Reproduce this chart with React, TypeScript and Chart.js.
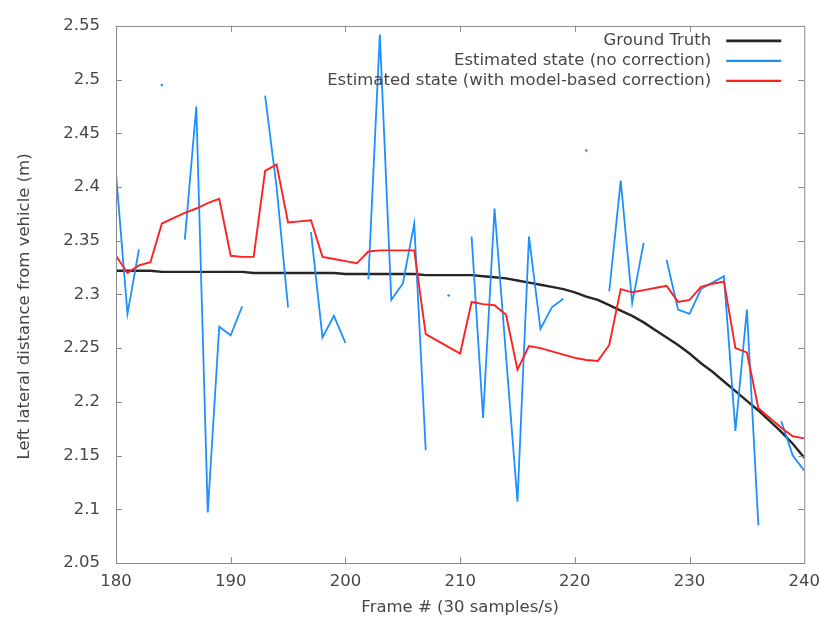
import React, { useEffect, useRef } from 'react';
import { Chart, registerables } from 'chart.js';

Chart.register(...registerables);

const frames = [
  180, 181, 182, 183, 184, 185, 186, 187, 188, 189,
  190, 191, 192, 193, 194, 195, 196, 197, 198, 199,
  200, 201, 202, 203, 204, 205, 206, 207, 208, 209,
  210, 211, 212, 213, 214, 215, 216, 217, 218, 219,
  220, 221, 222, 223, 224, 225, 226, 227, 228, 229,
  230, 231, 232, 233, 234, 235, 236, 237, 238, 239,
  240,
];

const groundTruth = [
  2.322, 2.322, 2.322, 2.322, 2.321, 2.321, 2.321, 2.321, 2.321, 2.321,
  2.321, 2.321, 2.320, 2.320, 2.320, 2.320, 2.320, 2.320, 2.320, 2.320,
  2.319, 2.319, 2.319, 2.319, 2.319, 2.319, 2.319, 2.318, 2.318, 2.318,
  2.318, 2.318, 2.317, 2.316, 2.315, 2.313, 2.311, 2.309, 2.307, 2.305,
  2.302, 2.298, 2.295, 2.290, 2.285, 2.280, 2.274, 2.267, 2.260, 2.253,
  2.245, 2.236, 2.228, 2.219, 2.210, 2.201, 2.192, 2.182, 2.172, 2.161,
  2.148,
];

const noCorrection: (number | null)[] = [
  2.413, 2.282, 2.342, null, 2.495, null, 2.351, 2.475, 2.097, 2.270,
  2.262, 2.289, null, 2.485, 2.400, 2.288, null, 2.358, 2.260, 2.280,
  2.255, null, 2.314, 2.542, 2.295, 2.310, 2.366, 2.155, null, 2.299,
  null, 2.354, 2.185, 2.380, 2.243, 2.107, 2.354, 2.268, 2.288, 2.296,
  null, 2.434, null, 2.303, 2.406, 2.292, 2.348, null, 2.332, 2.286,
  2.282, 2.305, 2.311, 2.317, 2.173, 2.286, 2.085, null, 2.182, 2.150,
  2.136,
];

const withCorrection = [
  2.336, 2.320, 2.327, 2.330, 2.366, 2.371, 2.376, 2.380, 2.385, 2.389,
  2.336, 2.335, 2.335, 2.415, 2.421, 2.367, 2.368, 2.369, 2.335, 2.333,
  2.331, 2.329, 2.340, 2.341, 2.341, 2.341, 2.341, 2.263, 2.257, 2.251,
  2.245, 2.293, 2.291, 2.290, 2.281, 2.230, 2.252, 2.250, 2.247, 2.244,
  2.241, 2.239, 2.238, 2.253, 2.305, 2.302, 2.304, 2.306, 2.308, 2.293,
  2.295, 2.307, 2.310, 2.312, 2.250, 2.246, 2.194, 2.185, 2.176, 2.168,
  2.166,
];

const xTicks = [180, 190, 200, 210, 220, 230, 240];
const yTicks = [2.05, 2.1, 2.15, 2.2, 2.25, 2.3, 2.35, 2.4, 2.45, 2.5, 2.55];

const seriesLabels = [
  'Ground Truth',
  'Estimated state (no correction)',
  'Estimated state (with model-based correction)',
];
const seriesColors = ['#262626', '#1e8fff', '#ff2020'];
const seriesWidths = [2.4, 1.8, 1.9];

const xTitle = 'Frame # (30 samples/s)';
const yTitle = 'Left lateral distance from vehicle (m)';

const FONT = "'DejaVu Sans', sans-serif";
const FS = 16.5;
const TEXT = '#474747';

const boxPlugin = {
  id: 'gnuplotBox',
  afterDatasetsDraw(chart: any) {
    const { ctx, chartArea: a, scales } = chart;
    ctx.save();
    ctx.strokeStyle = '#8a8a8a';
    ctx.lineWidth = 1;
    ctx.strokeRect(a.left + 0.5, a.top + 0.5, a.right - a.left, a.bottom - a.top);
    const tl = 6;
    ctx.beginPath();
    xTicks.forEach((v) => {
      const px = Math.round(scales.x.getPixelForValue(v)) + 0.5;
      if (px <= a.left + 1 || px >= a.right - 1) return;
      ctx.moveTo(px, a.bottom);
      ctx.lineTo(px, a.bottom - tl);
      ctx.moveTo(px, a.top);
      ctx.lineTo(px, a.top + tl);
    });
    yTicks.forEach((v) => {
      const py = Math.round(scales.y.getPixelForValue(v)) + 0.5;
      if (py <= a.top + 1 || py >= a.bottom - 1) return;
      ctx.moveTo(a.left, py);
      ctx.lineTo(a.left + tl, py);
      ctx.moveTo(a.right, py);
      ctx.lineTo(a.right - tl, py);
    });
    ctx.stroke();

    // gnuplot-style legend, top right inside the plot
    ctx.font = `${FS}px ${FONT}`;
    ctx.textAlign = 'right';
    ctx.textBaseline = 'middle';
    seriesLabels.forEach((label, i) => {
      const y = a.top + 15 + i * 20;
      ctx.fillStyle = TEXT;
      ctx.fillText(label, a.right - 93, y);
      ctx.beginPath();
      ctx.strokeStyle = seriesColors[i];
      ctx.lineWidth = seriesWidths[i] + 0.3;
      ctx.moveTo(a.right - 78, y);
      ctx.lineTo(a.right - 23, y);
      ctx.stroke();
    });

    // y-axis title (rotated)
    ctx.save();
    ctx.translate(25, (a.top + a.bottom) / 2 + 12);
    ctx.rotate(-Math.PI / 2);
    ctx.textAlign = 'center';
    ctx.textBaseline = 'middle';
    ctx.fillStyle = TEXT;
    ctx.fillText(yTitle, 0, 0);
    ctx.restore();
    ctx.restore();
  },
};

function isolatedRadius(ctx: any) {
  const data = ctx.dataset.data;
  const i = ctx.dataIndex;
  const cur = data[i];
  if (!cur || cur.y === null) return 0;
  const prev = i > 0 ? data[i - 1].y : null;
  const next = i < data.length - 1 ? data[i + 1].y : null;
  return prev === null && next === null ? 1.3 : 0;
}

export default function App() {
  const ref = useRef<HTMLCanvasElement | null>(null);

  useEffect(() => {
    document.body.style.margin = '0';
    const canvas = ref.current;
    if (!canvas) return;
    const series = [groundTruth, noCorrection, withCorrection];
    const chart = new Chart(canvas, {
      type: 'line',
      data: {
        datasets: series.map((vals, i) => ({
          label: seriesLabels[i],
          data: frames.map((f, j) => ({ x: f, y: vals[j] })),
          borderColor: seriesColors[i],
          backgroundColor: seriesColors[i],
          borderWidth: seriesWidths[i],
          pointRadius: i === 1 ? isolatedRadius : 0,
          pointBorderWidth: 0,
          pointHoverRadius: 0,
          tension: 0,
          spanGaps: false,
          fill: false,
          order: 2 - i,
        })),
      },
      options: {
        animation: false,
        responsive: false,
        events: [],
        layout: { padding: { top: 21, right: 18, left: 0, bottom: 0 } },
        plugins: {
          legend: { display: false },
          tooltip: { enabled: false },
        },
        scales: {
          x: {
            type: 'linear',
            min: 180,
            max: 240,
            afterBuildTicks: (s: any) => {
              s.ticks = xTicks.map((v) => ({ value: v }));
            },
            afterFit: (s: any) => {
              s.height = 58;
            },
            grid: { display: false, drawTicks: false },
            border: { display: false },
            ticks: {
              font: { family: FONT, size: FS },
              color: TEXT,
              padding: 9,
              maxRotation: 0,
              autoSkip: false,
            },
            title: {
              display: true,
              text: xTitle,
              font: { family: FONT, size: FS },
              color: TEXT,
              padding: { top: 0, bottom: 3 },
            },
          },
          y: {
            type: 'linear',
            min: 2.05,
            max: 2.55,
            afterBuildTicks: (s: any) => {
              s.ticks = yTicks.map((v) => ({ value: v }));
            },
            afterFit: (s: any) => {
              s.width = 116;
            },
            grid: { display: false, drawTicks: false },
            border: { display: false },
            ticks: {
              font: { family: FONT, size: FS },
              color: TEXT,
              padding: 16,
              autoSkip: false,
              callback: (v: any) => String(Number(Number(v).toFixed(2))),
            },
            title: { display: false },
          },
        },
      },
      plugins: [boxPlugin],
    });
    return () => chart.destroy();
  }, []);

  return (
    <div style={{ width: 829, height: 621 }}>
      <canvas ref={ref} width={829} height={621} style={{ display: 'block' }} />
    </div>
  );
}
